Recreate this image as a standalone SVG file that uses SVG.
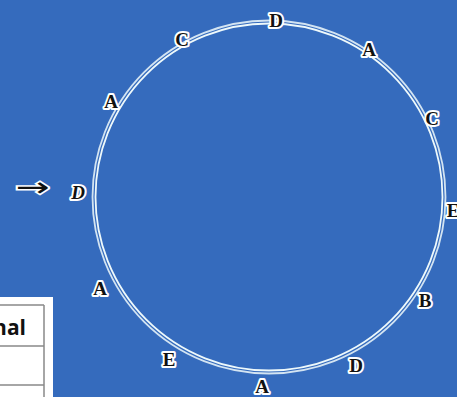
<svg xmlns="http://www.w3.org/2000/svg" width="457" height="397" viewBox="0 0 457 397">
<style>
.lbl{font-family:"Liberation Serif",serif;font-size:19px;font-weight:bold;fill:#111;stroke:#fff;stroke-width:4;paint-order:stroke;stroke-linejoin:round;text-anchor:middle}
.ring{fill:none;stroke:#eef9fb;stroke-width:1.8}
.tl{stroke:#888;stroke-width:1.5}
</style>
<rect width="457" height="397" fill="#356bbd"/>
<g id="table">
<rect x="0" y="297" width="53" height="100" fill="#fff"/>
<line class="tl" x1="0" y1="305" x2="44" y2="305"/>
<line class="tl" x1="44" y1="305" x2="44" y2="397"/>
<line class="tl" x1="0" y1="346" x2="44" y2="346"/>
<line class="tl" x1="0" y1="385" x2="44" y2="385"/>
<text x="26" y="335" text-anchor="end" font-family="'Open Sans',sans-serif" font-weight="bold" font-size="21" fill="#111">nal</text>
</g>
<g id="circle">
<circle class="ring" cx="269" cy="197" r="173.5"/>
<circle class="ring" cx="269" cy="197" r="176.5" stroke-opacity="0.85"/>
</g>
<g id="arrow">
<text x="16" y="196" font-family="'DejaVu Sans',sans-serif" font-size="26" textLength="34" lengthAdjust="spacingAndGlyphs" fill="#111" stroke="#fff" stroke-width="3" paint-order="stroke">→</text>
</g>
<g id="labels">
<text class="lbl" x="276" y="27">D</text>
<text class="lbl" x="182" y="46">C</text>
<text class="lbl" x="369" y="56">A</text>
<text class="lbl" x="432" y="125">C</text>
<text class="lbl" x="453" y="217">E</text>
<text class="lbl" x="425" y="307">B</text>
<text class="lbl" x="356" y="372">D</text>
<text class="lbl" x="262" y="393">A</text>
<text class="lbl" x="169" y="366">E</text>
<text class="lbl" x="100" y="295">A</text>
<text class="lbl" x="78" y="199" font-style="italic">D</text>
<text class="lbl" x="111" y="108">A</text>
</g>
</svg>
